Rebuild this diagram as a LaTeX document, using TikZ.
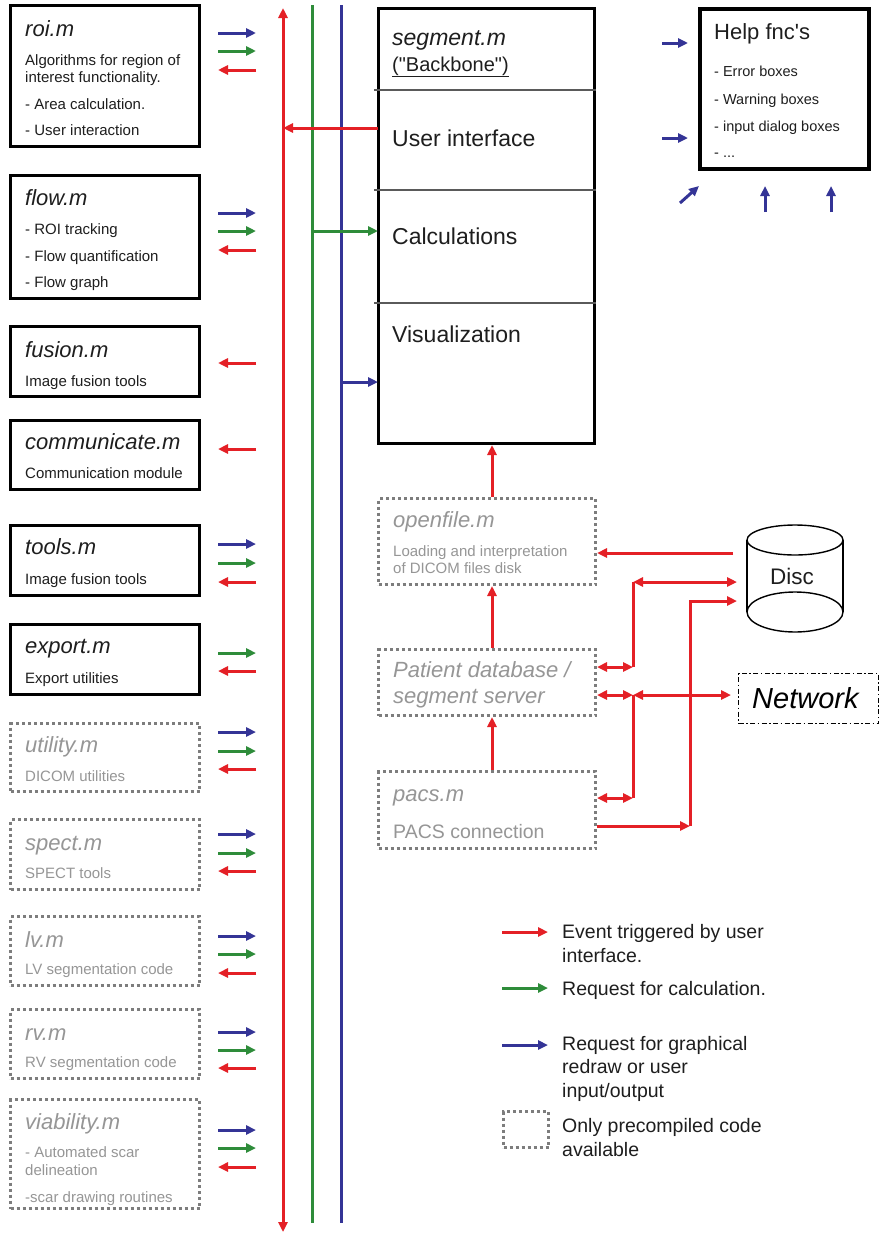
\documentclass[tikz,border=0pt]{standalone}
\usepackage{fontspec}
\setmainfont{Liberation Sans}
\newfontfamily\plainsans{Liberation Sans}
\usetikzlibrary{arrows.meta,calc}

\definecolor{cred}{RGB}{228,32,38}
\definecolor{cgreen}{RGB}{46,140,58}
\definecolor{cblue}{RGB}{52,52,150}
\definecolor{ink}{RGB}{30,30,30}
\definecolor{dimtext}{RGB}{150,150,150}
\definecolor{dotgray}{RGB}{125,125,125}
\definecolor{rulegray}{RGB}{90,90,90}

\begin{document}
\begin{tikzpicture}[x=1pt,y=-1pt,
  >={Triangle[length=10pt,width=9pt]},
  solidbox/.style={draw=black,line width=3.2pt,inner sep=0pt,minimum width=189pt},
  dotbox/.style={draw=dotgray,line width=3pt,dash pattern=on 3pt off 3pt,inner sep=0pt,minimum width=189pt},
  ttl/.style={anchor=base west,inner sep=0pt,font=\fontsize{22}{26}\selectfont\itshape,text=ink},
  txt/.style={anchor=base west,inner sep=0pt,font=\fontsize{15}{17}\selectfont,text=ink},
  dimttl/.style={ttl,text=dimtext},
  dimtxt/.style={txt,text=dimtext},
  bigtxt/.style={anchor=base west,inner sep=0pt,font=\fontsize{23}{27}\selectfont,text=ink},
  legtxt/.style={anchor=base west,inner sep=0pt,font=\fontsize{19.5}{23}\selectfont,text=ink},
  redw/.style={draw=cred,line width=3pt},
  greenw/.style={draw=cgreen,line width=3pt},
  bluew/.style={draw=cblue,line width=3pt},
]
\fill[white] (0,0) rectangle (884,1234);
\useasboundingbox (0,0) rectangle (884,1234);

% ---------- module boxes on the left ----------
\node[solidbox,minimum height=141pt] (roi) at (105,76) {};
\node[ttl] (roi-t) at (25,36) {roi.m};
\node[txt] (roi-a) at (25,65) {Algorithms for region of};
\node[txt] (roi-b) at (25,82) {interest functionality.};
\node[txt] (roi-c) at (25,109) {- Area calculation.};
\node[txt] (roi-d) at (25,135) {- User interaction};

\node[solidbox,minimum height=123pt] (flow) at (105,237) {};
\node[ttl] (flow-t) at (25,205) {flow.m};
\node[txt] (flow-a) at (25,234) {- ROI tracking};
\node[txt] (flow-b) at (25,261) {- Flow quantification};
\node[txt] (flow-c) at (25,287) {- Flow graph};

\node[solidbox,minimum height=70pt] (fusion) at (105,361.5) {};
\node[ttl] (fusion-t) at (25,357) {fusion.m};
\node[txt] (fusion-a) at (25,386) {Image fusion tools};

\node[solidbox,minimum height=69pt] (comm) at (105,455) {};
\node[ttl] (comm-t) at (25,449) {communicate.m};
\node[txt] (comm-a) at (25,478) {Communication module};

\node[solidbox,minimum height=70pt] (tools) at (105,560.5) {};
\node[ttl] (tools-t) at (25,554) {tools.m};
\node[txt] (tools-a) at (25,584) {Image fusion tools};

\node[solidbox,minimum height=70pt] (export) at (105,659.5) {};
\node[ttl] (export-t) at (25,653) {export.m};
\node[txt] (export-a) at (25,683) {Export utilities};

\node[dotbox,minimum height=68pt] (utility) at (105,757.5) {};
\node[dimttl] (utility-t) at (25,752) {utility.m};
\node[dimtxt] (utility-a) at (25,781) {DICOM utilities};

\node[dotbox,minimum height=70pt] (spect) at (105,854.5) {};
\node[dimttl] (spect-t) at (25,850) {spect.m};
\node[dimtxt] (spect-a) at (25,878) {SPECT tools};

\node[dotbox,minimum height=69pt] (lv) at (105,951) {};
\node[dimttl] (lv-t) at (25,947) {lv.m};
\node[dimtxt] (lv-a) at (25,974) {LV segmentation code};

\node[dotbox,minimum height=69pt] (rv) at (105,1044) {};
\node[dimttl] (rv-t) at (25,1040) {rv.m};
\node[dimtxt] (rv-a) at (25,1067) {RV segmentation code};

\node[dotbox,minimum height=109pt] (viab) at (105,1154) {};
\node[dimttl] (viab-t) at (25,1129) {viability.m};
\node[dimtxt] (viab-a) at (25,1157) {- Automated scar};
\node[dimtxt] (viab-b) at (25,1175) {delineation};
\node[dimtxt] (viab-c) at (25,1202) {-scar drawing routines};

% ---------- message arrows beside each module ----------
% roi
\draw[bluew,->] (218,33) -- (256,33);
\draw[greenw,->] (218,51) -- (256,51);
\draw[redw,->] (256,70) -- (218,70);
% flow
\draw[bluew,->] (218,213) -- (256,213);
\draw[greenw,->] (218,231) -- (256,231);
\draw[redw,->] (256,250) -- (218,250);
% fusion, communicate
\draw[redw,->] (256,363) -- (218,363);
\draw[redw,->] (256,449) -- (218,449);
% tools
\draw[bluew,->] (218,544) -- (256,544);
\draw[greenw,->] (218,563) -- (256,563);
\draw[redw,->] (256,582) -- (218,582);
% export
\draw[greenw,->] (218,653) -- (256,653);
\draw[redw,->] (256,671) -- (218,671);
% utility
\draw[bluew,->] (218,732) -- (256,732);
\draw[greenw,->] (218,751) -- (256,751);
\draw[redw,->] (256,769) -- (218,769);
% spect
\draw[bluew,->] (218,834) -- (256,834);
\draw[greenw,->] (218,853) -- (256,853);
\draw[redw,->] (256,871) -- (218,871);
% lv
\draw[bluew,->] (218,936) -- (256,936);
\draw[greenw,->] (218,954) -- (256,954);
\draw[redw,->] (256,973) -- (218,973);
% rv
\draw[bluew,->] (218,1032) -- (256,1032);
\draw[greenw,->] (218,1050) -- (256,1050);
\draw[redw,->] (256,1068) -- (218,1068);
% viability
\draw[bluew,->] (218,1130) -- (256,1130);
\draw[greenw,->] (218,1148) -- (256,1148);
\draw[redw,->] (256,1167) -- (218,1167);

% ---------- the three buses ----------
\coordinate (rtop) at (283,8);
\coordinate (rbot) at (283,1232);
\coordinate (gtop) at (312,5);
\coordinate (gbot) at (312,1223);
\coordinate (btop) at (341,5);
\coordinate (bbot) at (341,1223);
\draw[greenw] (gtop) -- (gbot);
\draw[bluew] (btop) -- (bbot);
\draw[redw,<->] (rbot) -- (rtop);

% ---------- segment.m backbone ----------
\node[draw=black,line width=3pt,inner sep=0pt,minimum width=216pt,minimum height=435pt] (seg) at (486.5,226) {};
\coordinate (sd1) at (374,90);
\coordinate (sd2) at (374,190);
\coordinate (sd3) at (374,303);
\draw[rulegray,line width=1.5pt] (sd1) -- (sd1 -| seg.east);
\draw[rulegray,line width=1.5pt] (sd2) -- (sd2 -| seg.east);
\draw[rulegray,line width=1.5pt] (sd3) -- (sd3 -| seg.east);
\node[bigtxt,font=\fontsize{23}{27}\selectfont\itshape] (seg-t) at (392,45) {segment.m};
\node[bigtxt,font=\fontsize{20}{24}\plainsans\selectfont] (seg-b) at (392,71) {\underline{("Backbone")}};
\node[bigtxt] (seg-ui) at (392,146) {User interface};
\node[bigtxt] (seg-calc) at (392,244) {Calculations};
\node[bigtxt] (seg-vis) at (392,342) {Visualization};

% bus connections to the backbone
\coordinate (ui) at (378,128);
\coordinate (ca) at (378,231);
\coordinate (vi) at (378,382);
\draw[redw,->] (ui) -- (rtop |- ui);
\draw[greenw,->] (gtop |- ca) -- (ca);
\draw[bluew,->] (btop |- vi) -- (vi);

% ---------- help functions ----------
\node[draw=black,line width=4pt,inner sep=0pt,minimum width=169pt,minimum height=160pt] (help) at (784.5,89) {};
\node[anchor=base west,inner sep=0pt,font=\fontsize{22}{26}\plainsans\selectfont,text=ink] (help-t) at (714,39) {Help fnc's};
\node[txt,font=\fontsize{14.5}{17}\selectfont] (help-a) at (714,76) {- Error boxes};
\node[txt,font=\fontsize{14.5}{17}\selectfont] (help-b) at (714,104) {- Warning boxes};
\node[txt,font=\fontsize{14.5}{17}\selectfont] (help-c) at (714,131) {- input dialog boxes};
\node[txt,font=\fontsize{14.5}{17}\selectfont] (help-d) at (714,157) {- ...};
\coordinate (ha) at (662,43);
\coordinate (hb) at (662,138);
\coordinate (hc) at (680,203);
\coordinate (hd) at (765,212);
\coordinate (he) at (831,212);
\draw[bluew,->] (ha) -- ++(26,0);
\draw[bluew,->] (hb) -- ++(26,0);
\draw[bluew,->] (hc) -- ++(19,-17);
\draw[bluew,->] (hd) -- ++(0,-26);
\draw[bluew,->] (he) -- ++(0,-26);

% ---------- file handling chain ----------
\node[dotbox,minimum width=217pt,minimum height=86pt] (openfile) at (487,541.5) {};
\node[dimttl] (open-t) at (393,527) {openfile.m};
\node[dimtxt] (open-a) at (393,556) {Loading and interpretation};
\node[dimtxt] (open-b) at (393,573) {of DICOM files disk};

\node[dotbox,minimum width=217pt,minimum height=66pt] (patient) at (487,682.5) {};
\node[dimttl] (pat-a) at (393,677) {Patient database /};
\node[dimttl] (pat-b) at (393,703) {segment server};

\node[dotbox,minimum width=217pt,minimum height=77pt] (pacs) at (487,810) {};
\node[dimttl] (pacs-t) at (393,801) {pacs.m};
\node[dimtxt,font=\fontsize{19.5}{23}\selectfont] (pacs-a) at (393,838) {PACS connection};

\coordinate (xm) at (492,0);
\draw[redw,->] (openfile.north -| xm) -- (seg.south -| xm);
\draw[redw,->] (patient.north -| xm) -- (openfile.south -| xm);
\draw[redw,->] (pacs.north -| xm) -- (patient.south -| xm);

% disc
\draw[black,line width=1.4pt] (747,540) -- (747,612) (843,540) -- (843,612);
\draw[black,line width=1.4pt,fill=white] (795,612) ellipse [x radius=48, y radius=20];
\draw[black,line width=1.4pt,fill=white] (795,540) ellipse [x radius=48, y radius=15];
\node[anchor=base west,inner sep=0pt,font=\fontsize{22.5}{26}\selectfont,text=ink] (disc) at (770,584) {Disc};

% network
\node[draw=black,line width=1.3pt,dash pattern=on 5pt off 2.5pt on 1.5pt off 2.5pt,inner sep=0pt,minimum width=140pt,minimum height=50pt] (network) at (808.5,698.5) {};
\node[anchor=base west,inner sep=0pt,font=\fontsize{29}{33}\selectfont\itshape,text=black] (net-t) at (752,708) {Network};

% storage connectors
\coordinate (d1) at (733,553);
\coordinate (d2) at (737,582);
\coordinate (d3) at (737,601);
\coordinate (n1) at (731,695);
\coordinate (p1) at (633,667);
\coordinate (p2) at (633,695);
\coordinate (p3) at (633,798);
\coordinate (p4) at (690,826);
\draw[redw,->] (d1) -- (openfile.east |- d1);
\draw[redw,<->] (patient.east |- p1) -- (p1);
\draw[redw] (p1) -- (p1 |- d2);
\draw[redw,<->] (p1 |- d2) -- (d2);
\draw[redw,<->] (patient.east |- p2) -- (p2);
\draw[redw,<->] (p2) -- (n1);
\draw[redw] (p2) -- (p3);
\draw[redw,<->] (pacs.east |- p3) -- (p3);
\draw[redw,->] (pacs.east |- p4) -- (p4);
\draw[redw,->] (p4) -- (p4 |- d3) -- (d3);

% ---------- legend ----------
\coordinate (la) at (502,932);
\coordinate (lb) at (502,988);
\coordinate (lc) at (502,1045);
\draw[redw,->] (la) -- ++(46,0);
\draw[greenw,->] (lb) -- ++(46,0);
\draw[bluew,->] (lc) -- ++(46,0);
\node[legtxt] (leg-a1) at (562,938) {Event triggered by user};
\node[legtxt] (leg-a2) at (562,962) {interface.};
\node[legtxt] (leg-b) at (562,995) {Request for calculation.};
\node[legtxt] (leg-c1) at (562,1050) {Request for graphical};
\node[legtxt] (leg-c2) at (562,1073) {redraw or user};
\node[legtxt] (leg-c3) at (562,1097) {input/output};
\node[draw=dotgray,line width=3pt,dash pattern=on 3pt off 3pt,inner sep=0pt,minimum width=45pt,minimum height=36pt] (leg-box) at (526,1129.5) {};
\node[legtxt] (leg-d1) at (562,1132) {Only precompiled code};
\node[legtxt] (leg-d2) at (562,1156) {available};
\end{tikzpicture}
\end{document}
